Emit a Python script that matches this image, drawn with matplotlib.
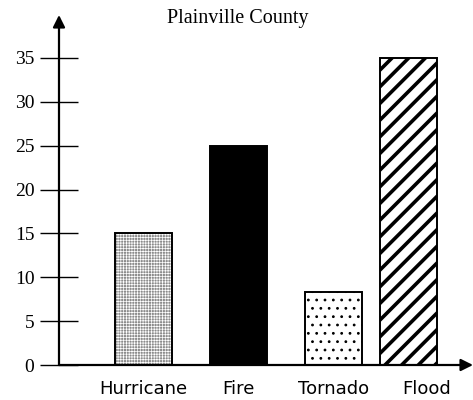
import matplotlib
matplotlib.use('Agg')
import matplotlib.pyplot as plt

categories = ['Hurricane', 'Fire', 'Tornado', 'Flood']
values = [15, 25, 8.3, 35]
yticks = [0, 5, 10, 15, 20, 25, 30, 35]

# layout (pixel-like units from the y axis)
bar_x = [84.5, 179, 274, 349]
label_x = [84.5, 179, 274.5, 367.5]
bar_w = 57
faces = ['#8c8c8c', 'black', 'white', 'white']
hatches = ['++++++', None, '..', '//']
hatch_cols = ['white', 'black', 'black', 'black']
hatch_lw = [0.5, 1.0, 0.8, 2.6]

W, H = 473, 400
fig = plt.figure(figsize=(W / 100, H / 100), dpi=100)
fig.patch.set_facecolor('white')
ax = fig.add_axes([59 / W, 35 / H, (W - 59) / W, (365 - 15) / H])
ax.set_xlim(0, W - 59)
ax.set_ylim(0, 35 * (365 - 15) / (365 - 58))

for x, v, fc, h, hc, hl in zip(bar_x, values, faces, hatches, hatch_cols, hatch_lw):
    # fill + hatch layer (hatch takes the edge colour), then a black outline
    b = ax.bar(x, v, width=bar_w, color=fc, edgecolor=hc, linewidth=0,
               hatch=h, zorder=2)[0]
    if h and hasattr(b, 'set_hatch_linewidth'):
        b.set_hatch_linewidth(hl)
    ax.bar(x, v, width=bar_w, fill=False, edgecolor='black', linewidth=1.4, zorder=2.5)

for s in ax.spines.values():
    s.set_visible(False)

# axes with arrow heads
ax.annotate('', xy=(0, 1), xytext=(0, 0), xycoords='axes fraction',
            arrowprops=dict(arrowstyle='-|>', color='black', lw=1.6,
                            mutation_scale=18, shrinkA=0, shrinkB=0), zorder=3)
ax.annotate('', xy=(1, 0), xytext=(0, 0), xycoords='axes fraction',
            arrowprops=dict(arrowstyle='-|>', color='black', lw=1.6,
                            mutation_scale=18, shrinkA=0, shrinkB=0), zorder=3)

ax.set_yticks(yticks)
ax.set_yticklabels([str(t) for t in yticks], family='Liberation Serif', fontsize=14)
ax.tick_params(axis='y', direction='inout', length=27.4, width=1.0, pad=4, colors='black')

ax.set_xticks(label_x)
ax.set_xticklabels(categories, family='DejaVu Sans', fontsize=13)
ax.tick_params(axis='x', length=0, pad=11)

fig.text(237.5 / W, 1 - 18 / H, 'Plainville County', ha='center', va='center',
         family='Liberation Serif', fontsize=14.5)

plt.savefig('out.png', dpi=100, facecolor='white')
plt.close()
